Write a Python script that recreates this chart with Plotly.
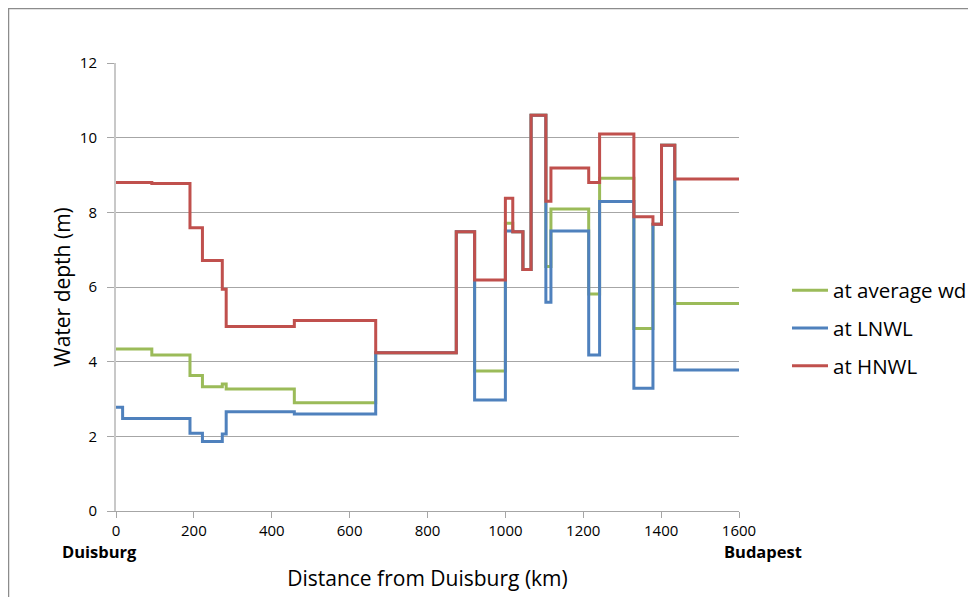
import plotly.graph_objects as go

# Segment start positions (km); last entry is the end of the route
km_breaks = [0, 17, 92, 190, 222, 273, 283, 458, 667, 874, 921, 1000, 1019,
             1045, 1066, 1104, 1117, 1214, 1242, 1330, 1379, 1401, 1435, 1600]

# Water depth (m) per segment
depth_avg = [4.34, 4.34, 4.18, 3.63, 3.33, 3.40, 3.27, 2.90, 4.24, 7.48, 3.75, 7.71,
             7.48, 6.47, 10.6, 6.55, 8.09, 5.81, 8.91, 4.89, 7.68, 9.80, 5.56]
depth_lnwl = [2.78, 2.48, 2.48, 2.08, 1.86, 2.06, 2.66, 2.60, 4.24, 7.48, 2.97, 7.50,
              7.48, 6.47, 10.6, 5.59, 7.50, 4.18, 8.29, 3.29, 7.68, 9.80, 3.78]
depth_hnwl = [8.80, 8.80, 8.77, 7.59, 6.71, 5.94, 4.94, 5.10, 4.24, 7.48, 6.19, 8.38,
              7.48, 6.47, 10.6, 8.30, 9.19, 8.80, 10.1, 7.88, 7.68, 9.80, 8.89]

series_names = ["at average wd", "at LNWL", "at HNWL"]
series_colors = ["#9BBB59", "#4F81BD", "#C0504D"]
x_ticks = [0, 200, 400, 600, 800, 1000, 1200, 1400, 1600]
y_ticks = [0, 2, 4, 6, 8, 10, 12]

FONT = "Open Sans"

fig = go.Figure()
for name, color, vals in zip(series_names, series_colors, [depth_avg, depth_lnwl, depth_hnwl]):
    fig.add_trace(go.Scatter(
        x=km_breaks, y=vals + [vals[-1]], mode="lines", name=name,
        line=dict(color=color, width=3, shape="hv"),
        legendgroup=name,
    ))

# page has an 8px body margin; figure sized to fit the 976x605 window
OFF = 8
W, H = 960, 589
L, R, T, B = 108, 229, 55, 86
pw, ph = W - L - R, H - T - B

def px_x(p):  # page pixel -> paper x
    return (p - OFF - L) / pw

def px_y(p):  # page pixel -> paper y
    return (H - B - (p - OFF)) / ph

fig.update_layout(
    width=W, height=H,
    margin=dict(l=L, r=R, t=T, b=B, autoexpand=False),
    paper_bgcolor="white", plot_bgcolor="white",
    font=dict(family=FONT, color="#000000"),
    showlegend=True,
    legend=dict(
        x=px_x(787), y=px_y(328), xanchor="left", yanchor="middle",
        font=dict(size=20.5, family=FONT, color="#000000"),
        tracegroupgap=8, itemwidth=36, bgcolor="rgba(0,0,0,0)",
    ),
    xaxis=dict(
        range=[0, 1600], tickvals=x_ticks, showgrid=False, zeroline=False,
        showline=True, linecolor="#A6A6A6", linewidth=1, automargin=False,
        ticks="outside", ticklen=6, tickcolor="#A6A6A6",
        tickfont=dict(size=15, family=FONT, color="#000000"),
        title=dict(text="Distance from Duisburg (km)", font=dict(size=21, family=FONT), standoff=32),
    ),
    yaxis=dict(
        range=[0, 12], tickvals=y_ticks, showgrid=True, gridcolor="#A6A6A6", gridwidth=1,
        zeroline=False, showline=True, linecolor="#C8C8C8", linewidth=2, automargin=False,
        ticks="outside", ticklen=7, tickcolor="#A6A6A6", ticklabelstandoff=7,
        tickfont=dict(size=15, family=FONT, color="#000000"),
        title=dict(text="Water depth (m)", font=dict(size=21, family=FONT), standoff=3),
    ),
    shapes=[
        dict(type="line", xref="paper", yref="paper",
             x0=px_x(8), x1=px_x(980), y0=px_y(8.5), y1=px_y(8.5),
             line=dict(color="#8C8C8C", width=1.5)),
        dict(type="line", xref="paper", yref="paper",
             x0=px_x(8.5), x1=px_x(8.5), y0=px_y(8), y1=px_y(610),
             line=dict(color="#8C8C8C", width=1.5)),
    ],
    annotations=[
        dict(text="<b>Duisburg</b>", x=0, xref="x", y=px_y(551), yref="paper",
             showarrow=False, font=dict(size=16.5, family=FONT, color="#000000"),
             xanchor="center", yanchor="middle", xshift=-17),
        dict(text="<b>Budapest</b>", x=1600, xref="x", y=px_y(551), yref="paper",
             showarrow=False, font=dict(size=16.5, family=FONT, color="#000000"),
             xanchor="center", yanchor="middle", xshift=24),
    ],
)

fig.write_html("out.html")
